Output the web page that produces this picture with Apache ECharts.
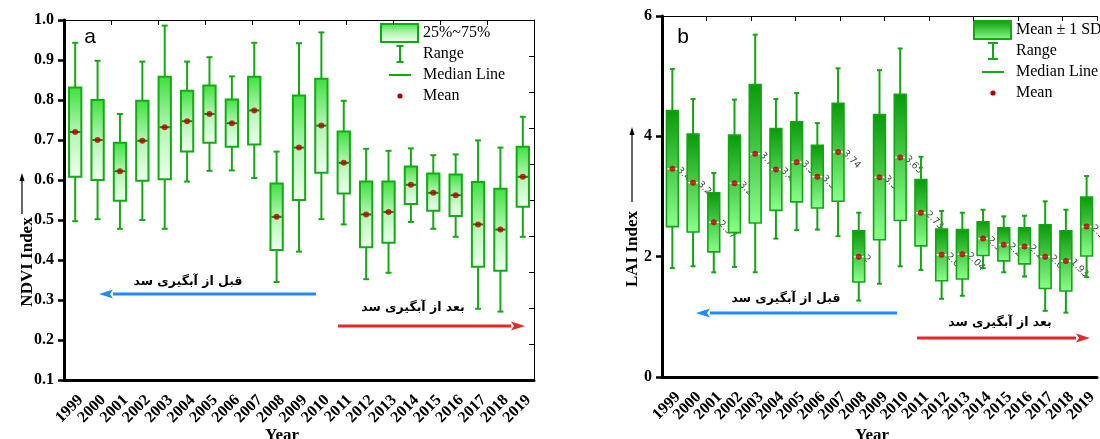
<!DOCTYPE html>
<html><head><meta charset="utf-8">
<script src="https://cdn.jsdelivr.net/npm/echarts@6/dist/echarts.min.js"></script>
<style>html,body{margin:0;padding:0;background:#fff}#c{width:1100px;height:439px}</style>
</head><body><div id="c"></div>
<script>
// ---------- data ----------
const years = ['1999','2000','2001','2002','2003','2004','2005','2006','2007','2008','2009','2010','2011','2012','2013','2014','2015','2016','2017','2018','2019'];

// NDVI (panel a): range, 25%-75% box, median, mean
const ndviMin    = [0.497,0.502,0.478,0.500,0.478,0.596,0.623,0.624,0.605,0.345,0.421,0.502,0.489,0.352,0.368,0.495,0.478,0.458,0.278,0.271,0.458];
const ndviQ1     = [0.608,0.600,0.548,0.598,0.602,0.671,0.693,0.683,0.689,0.425,0.550,0.618,0.566,0.432,0.443,0.540,0.523,0.510,0.383,0.373,0.533];
const ndviMedian = [0.720,0.700,0.622,0.698,0.732,0.747,0.765,0.742,0.774,0.508,0.681,0.736,0.643,0.514,0.520,0.588,0.568,0.562,0.489,0.476,0.608];
const ndviQ3     = [0.831,0.800,0.693,0.798,0.858,0.823,0.836,0.801,0.858,0.591,0.811,0.853,0.721,0.596,0.596,0.634,0.616,0.614,0.595,0.578,0.683];
const ndviMax    = [0.943,0.898,0.765,0.896,0.986,0.896,0.907,0.859,0.943,0.671,0.942,0.969,0.798,0.678,0.673,0.679,0.662,0.664,0.699,0.681,0.758];
const ndviMean   = [0.720,0.700,0.622,0.698,0.732,0.747,0.765,0.742,0.774,0.508,0.681,0.736,0.643,0.514,0.520,0.588,0.568,0.562,0.489,0.476,0.608];

// LAI (panel b): range, mean ± 1 SD box, median, mean
const laiMin    = [1.81,1.84,1.74,1.83,1.74,2.30,2.44,2.45,2.34,1.27,1.55,1.84,1.78,1.30,1.35,1.81,1.74,1.67,1.10,1.07,1.66];
const laiLow    = [2.50,2.41,2.08,2.40,2.56,2.77,2.91,2.81,2.92,1.58,2.28,2.60,2.18,1.60,1.63,2.02,1.93,1.88,1.47,1.43,2.01];
const laiMedian = [3.46,3.23,2.57,3.22,3.71,3.45,3.57,3.33,3.74,2.00,3.32,3.65,2.73,2.03,2.04,2.30,2.20,2.17,2.00,1.93,2.50];
const laiHigh   = [4.43,4.04,3.06,4.02,4.86,4.13,4.24,3.85,4.55,2.43,4.36,4.70,3.28,2.46,2.45,2.58,2.48,2.48,2.53,2.43,2.99];
const laiMax    = [5.12,4.62,3.39,4.61,5.69,4.62,4.72,4.22,5.13,2.73,5.10,5.46,3.66,2.76,2.73,2.78,2.67,2.68,2.92,2.78,3.34];
const laiMean   = [3.46,3.23,2.57,3.22,3.71,3.45,3.57,3.33,3.74,2.00,3.32,3.65,2.73,2.03,2.04,2.30,2.20,2.17,2.00,1.93,2.50];
const laiLabels = ['3.46','3.23','2.57','3.22','3.71','3.45','3.57','3.33','3.74','2','3.32','3.65','2.73','2.03','2.04','2.3','2.2','2.17','2.0','1.93','2.5'];

const ndviTicks = [0.1,0.2,0.3,0.4,0.5,0.6,0.7,0.8,0.9,1.0];
const laiTicks = [0,2,4,6];

const textBefore = 'قبل از آبگیری سد';
const textAfter = 'بعد از آبگیری سد';

// ---------- styles ----------
const SERIF = '"Liberation Serif", "Times New Roman", serif';
const G = echarts.graphic;
const gradA = () => new G.LinearGradient(0,0,0,1,[{offset:0,color:'#3ee03e'},{offset:0.5,color:'#b5f5b5'},{offset:1,color:'#f0fff0'}]);
const gradB = () => new G.LinearGradient(0,0,0,1,[{offset:0,color:'#089a08'},{offset:1,color:'#8cff8c'}]);

function makeBoxRender(st) {
  return function (params, api) {
    const i = api.value(0);
    const pMin = api.coord([i, api.value(1)]);
    const pLo  = api.coord([i, api.value(2)]);
    const pMed = api.coord([i, api.value(3)]);
    const pHi  = api.coord([i, api.value(4)]);
    const pMax = api.coord([i, api.value(5)]);
    const band = api.size([1, 0])[0];
    const bw = band * st.boxRatio;
    const cx = pMin[0];
    const cw = st.capW / 2;
    const ls = {stroke: st.stroke, lineWidth: st.lw};
    return {type:'group', children:[
      {type:'line', shape:{x1:cx,y1:pMax[1],x2:cx,y2:pHi[1]}, style:ls},
      {type:'line', shape:{x1:cx,y1:pLo[1],x2:cx,y2:pMin[1]}, style:ls},
      {type:'line', shape:{x1:cx-cw,y1:pMax[1],x2:cx+cw,y2:pMax[1]}, style:ls},
      {type:'line', shape:{x1:cx-cw,y1:pMin[1],x2:cx+cw,y2:pMin[1]}, style:ls},
      {type:'rect', shape:{x:cx-bw/2,y:pHi[1],width:bw,height:pLo[1]-pHi[1]}, style:{fill:st.grad(), stroke:st.stroke, lineWidth:st.boxLw}},
      {type:'line', shape:{x1:cx-bw/2+1,y1:pMed[1],x2:cx+bw/2-1,y2:pMed[1]}, style:{stroke:st.medColor, lineWidth:st.medLw}}
    ]};
  };
}

const ndviBoxData = years.map((y,i)=>[i, ndviMin[i], ndviQ1[i], ndviMedian[i], ndviQ3[i], ndviMax[i]]);
const laiBoxData  = years.map((y,i)=>[i, laiMin[i], laiLow[i], laiMedian[i], laiHigh[i], laiMax[i]]);

function catAxis(grid) {
  return {gridIndex:grid, type:'category', data:years, boundaryGap:true, position:'bottom',
    axisLine:{onZero:false, lineStyle:{color:'#000', width:3}},
    axisTick:{alignWithLabel:true, length:7, lineStyle:{color:'#000', width:2.5}},
    axisLabel:{interval:0, rotate:45, fontFamily:SERIF, fontWeight:'bold', fontSize:16, color:'#000', margin:12, verticalAlign:'top'},
    splitLine:{show:false}};
}
function frameAxis(grid, pos, max) {
  return {gridIndex:grid, type:'value', position:pos, min:0, max:max, interval:1,
    axisLine:{show:true, onZero:false, lineStyle:{color:'#000', width:1}},
    axisTick:{show:true, inside:true, length:5, lineStyle:{color:'#000', width:1}},
    axisLabel:{show:false}, splitLine:{show:false}};
}

function arrow(x1, x2, y, color, dir) {
  const tip = dir < 0 ? x1 : x2;
  const base = tip - dir * 14;
  return [
    {type:'line', shape:{x1: dir<0 ? base : x1, y1:y, x2: dir<0 ? x2 : base, y2:y}, style:{stroke:color, lineWidth:3}},
    {type:'polygon', shape:{points:[[tip,y],[base,y-4.5],[base+dir*3,y],[base,y+4.5]]}, style:{fill:color}}
  ];
}
function upArrow(x, y1, y2) {
  return [
    {type:'line', shape:{x1:x, y1:y2, x2:x, y2:y1+5}, style:{stroke:'#000', lineWidth:1.2}},
    {type:'polygon', shape:{points:[[x,y1],[x-2.5,y1+8],[x+2.5,y1+8]]}, style:{fill:'#000'}}
  ];
}
function legend(x0, y0, title, grad, capW) {
  const ix = x0 + 19;
  const tx = x0 + 42;
  const tf = '16px ' + SERIF;
  return [
    {type:'rect', shape:{x:x0, y:y0, width:37, height:18}, style:{fill:grad(), stroke:'#12aa12', lineWidth:2}},
    {type:'text', x:tx, y:y0+9, style:{text:title, font:tf, fill:'#000', verticalAlign:'middle'}},
    {type:'line', shape:{x1:ix, y1:y0+22, x2:ix, y2:y0+38}, style:{stroke:'#12aa12', lineWidth:2}},
    {type:'line', shape:{x1:ix-capW/2, y1:y0+22, x2:ix+capW/2, y2:y0+22}, style:{stroke:'#12aa12', lineWidth:2}},
    {type:'line', shape:{x1:ix-capW/2, y1:y0+38, x2:ix+capW/2, y2:y0+38}, style:{stroke:'#12aa12', lineWidth:2}},
    {type:'text', x:tx, y:y0+30, style:{text:'Range', font:tf, fill:'#000', verticalAlign:'middle'}},
    {type:'line', shape:{x1:ix-11, y1:y0+51, x2:ix+11, y2:y0+51}, style:{stroke:'#12aa12', lineWidth:2}},
    {type:'text', x:tx, y:y0+51, style:{text:'Median Line', font:tf, fill:'#000', verticalAlign:'middle'}},
    {type:'circle', shape:{cx:ix, cy:y0+72, r:2.6}, style:{fill:'#b50000'}},
    {type:'text', x:tx, y:y0+72, style:{text:'Mean', font:tf, fill:'#000', verticalAlign:'middle'}}
  ];
}
const fa = 'bold 12.5px "DejaVu Sans", sans-serif';

const graphics = [
  {type:'text', x:90, y:37, style:{text:'a', font:'21px "Liberation Sans", Arial, sans-serif', fill:'#000', align:'center', verticalAlign:'middle'}},
  {type:'text', x:683, y:37, style:{text:'b', font:'21px "Liberation Sans", Arial, sans-serif', fill:'#000', align:'center', verticalAlign:'middle'}},
  {type:'text', x:28, y:262, rotation:Math.PI/2, style:{text:'NDVI Index', font:'bold 17px '+SERIF, fill:'#000', align:'center', verticalAlign:'middle'}},
  {type:'text', x:633, y:249, rotation:Math.PI/2, style:{text:'LAI Index', font:'bold 17px '+SERIF, fill:'#000', align:'center', verticalAlign:'middle'}},
  {type:'text', x:282, y:427, style:{text:'Year', font:'bold 17px '+SERIF, fill:'#000', align:'center', verticalAlign:'top'}},
  {type:'text', x:872, y:427, style:{text:'Year', font:'bold 17px '+SERIF, fill:'#000', align:'center', verticalAlign:'top'}},
  ...upArrow(22, 173, 214),
  ...upArrow(632, 127, 202),
  {type:'text', x:188, y:282, style:{text:textBefore, font:fa, fill:'#000', align:'center', verticalAlign:'middle'}},
  {type:'text', x:413, y:308, style:{text:textAfter, font:fa, fill:'#000', align:'center', verticalAlign:'middle'}},
  {type:'text', x:786, y:299, style:{text:textBefore, font:fa, fill:'#000', align:'center', verticalAlign:'middle'}},
  {type:'text', x:1000, y:323, style:{text:textAfter, font:fa, fill:'#000', align:'center', verticalAlign:'middle'}},
  ...arrow(99, 316, 294, '#1e8cff', -1),
  ...arrow(338, 525, 326, '#e82828', 1),
  ...arrow(696, 897, 313, '#1e8cff', -1),
  ...arrow(917, 1090, 338, '#e82828', 1),
  ...legend(381, 24, '25%~75%', gradA, 7),
  ...legend(974, 21, 'Mean \u00b1 1 SD', gradB, 10)
];

const chart = echarts.init(document.getElementById('c'));
chart.setOption({
  animation:false,
  backgroundColor:'#fff',
  grid:[
    {left:64, top:20, width:470, height:360},
    {left:662, top:16, width:437, height:361}
  ],
  xAxis:[
    catAxis(0),
    frameAxis(0, 'top', 10),
    catAxis(1),
    frameAxis(1, 'top', 9.78)
  ],
  yAxis:[
    {gridIndex:0, type:'value', min:ndviTicks[0], max:ndviTicks[ndviTicks.length-1], interval:0.1,
      axisLine:{show:true, onZero:false, lineStyle:{color:'#000', width:3}},
      axisTick:{show:true, length:6, lineStyle:{color:'#000', width:2.5}},
      axisLabel:{formatter:v=>v.toFixed(1), fontFamily:SERIF, fontWeight:'bold', fontSize:16, color:'#000', margin:10},
      splitLine:{show:false}},
    frameAxis(0, 'right', 10),
    {gridIndex:1, type:'value', min:laiTicks[0], max:laiTicks[laiTicks.length-1], interval:2,
      axisLine:{show:true, onZero:false, lineStyle:{color:'#000', width:3}},
      axisTick:{show:true, length:6, lineStyle:{color:'#000', width:2.5}},
      axisLabel:{fontFamily:SERIF, fontWeight:'bold', fontSize:16, color:'#000', margin:10},
      splitLine:{show:false}}
  ],
  series:[
    {type:'custom', xAxisIndex:0, yAxisIndex:0, z:2, data:ndviBoxData, encode:{x:0, y:[1,2,3,4,5]},
      renderItem:makeBoxRender({boxRatio:0.55, capW:6, stroke:'#13ab13', lw:2, boxLw:2, grad:gradA, medColor:'#0c8a0c', medLw:2})},
    {type:'scatter', xAxisIndex:0, yAxisIndex:0, z:3, symbolSize:6, itemStyle:{color:'#b50000'},
      data:ndviMean.map((v,i)=>[i,v])},
    {type:'scatter', xAxisIndex:2, yAxisIndex:2, z:1, symbolSize:2, itemStyle:{color:'rgba(0,0,0,0)'}, silent:true,
      data:laiMean.map((v,i)=>[i,v]),
      label:{show:true, position:'right', distance:5, rotate:-45, formatter:p=>laiLabels[p.dataIndex],
        fontSize:9.5, color:'#111', fontFamily:'"DejaVu Sans", sans-serif'}},
    {type:'custom', xAxisIndex:2, yAxisIndex:2, z:2, data:laiBoxData, encode:{x:0, y:[1,2,3,4,5]},
      renderItem:makeBoxRender({boxRatio:0.57, capW:5, stroke:'#13a513', lw:2, boxLw:1.6, grad:gradB, medColor:'#ffffff', medLw:1.5})},
    {type:'scatter', xAxisIndex:2, yAxisIndex:2, z:3, symbolSize:6, itemStyle:{color:'#b50000'},
      data:laiMean.map((v,i)=>[i,v])}
  ],
  graphic:graphics
});
</script>
</body></html>
